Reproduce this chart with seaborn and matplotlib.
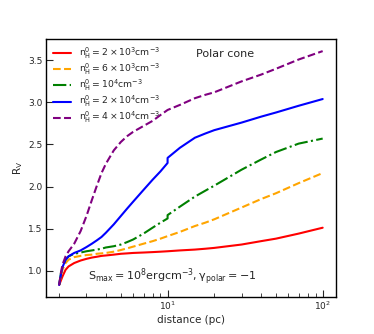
import numpy as np
import pandas as pd
import seaborn as sns
import matplotlib
matplotlib.use('Agg')
import matplotlib.pyplot as plt

# distance grid (pc); 10 appears twice for the small jump at 10 pc
distance = [2.0, 2.05, 2.1, 2.2, 2.3, 2.5, 2.75, 3.0, 3.25, 3.5, 3.75, 4.0, 4.5, 5.0, 5.5,
            6.0, 7.0, 8.0, 9.0, 10.0, 10.0, 12.0, 15.0, 17.5, 20.0, 30.0, 40.0, 50.0, 70.0, 100.0]

rv_2e3 = [0.83, 0.88, 0.93, 1.01, 1.05, 1.09, 1.12, 1.14, 1.155, 1.165, 1.175, 1.18, 1.19, 1.20, 1.205,
          1.21, 1.215, 1.22, 1.225, 1.23, 1.23, 1.24, 1.25, 1.26, 1.27, 1.31, 1.35, 1.38, 1.44, 1.51]
rv_6e3 = [0.83, 0.93, 1.01, 1.09, 1.13, 1.16, 1.175, 1.185, 1.19, 1.20, 1.205, 1.21, 1.225, 1.245, 1.265,
          1.285, 1.32, 1.35, 1.38, 1.41, 1.41, 1.46, 1.53, 1.57, 1.61, 1.75, 1.85, 1.92, 2.04, 2.16]
rv_1e4 = [0.83, 0.96, 1.05, 1.13, 1.17, 1.20, 1.215, 1.23, 1.24, 1.25, 1.26, 1.275, 1.29, 1.31, 1.34,
          1.37, 1.44, 1.51, 1.57, 1.62, 1.66, 1.76, 1.88, 1.95, 2.01, 2.20, 2.32, 2.41, 2.51, 2.57]
rv_2e4 = [0.83, 0.95, 1.04, 1.13, 1.17, 1.21, 1.24, 1.28, 1.32, 1.36, 1.40, 1.45, 1.55, 1.65, 1.74,
          1.82, 1.96, 2.08, 2.18, 2.28, 2.34, 2.46, 2.58, 2.63, 2.67, 2.76, 2.83, 2.88, 2.96, 3.04]
rv_4e4 = [0.83, 0.97, 1.07, 1.17, 1.23, 1.32, 1.47, 1.65, 1.84, 2.01, 2.16, 2.27, 2.43, 2.53, 2.60,
          2.65, 2.72, 2.78, 2.85, 2.91, 2.91, 2.97, 3.05, 3.09, 3.12, 3.25, 3.33, 3.40, 3.51, 3.61]

labels = [r'$\mathrm{n_H^0 = 2\times10^3 cm^{-3}}$',
          r'$\mathrm{n_H^0 = 6\times10^3 cm^{-3}}$',
          r'$\mathrm{n_H^0 = 10^4 cm^{-3}}$',
          r'$\mathrm{n_H^0 = 2\times10^4 cm^{-3}}$',
          r'$\mathrm{n_H^0 = 4\times10^4 cm^{-3}}$']
series = [rv_2e3, rv_6e3, rv_1e4, rv_2e4, rv_4e4]
colors = ['red', 'orange', 'green', 'blue', 'purple']
styles = ['-', '--', '-.', '-', '--']

sns.set_style('ticks')
plt.rcParams['font.family'] = ['DejaVu Sans']

fig = plt.figure(figsize=(3.74, 3.34), dpi=100)
ax = fig.add_axes([0.123, 0.112, 0.775, 0.770])
ax.set_xscale('log')

for vals, lab, col, ls in zip(series, labels, colors, styles):
    df = pd.DataFrame({'distance': distance, 'rv': vals})
    sns.lineplot(data=df, x='distance', y='rv', ax=ax, color=col, linestyle=ls,
                 linewidth=1.5, label=lab, estimator=None, sort=False)

ax.set_xlabel('distance (pc)', fontsize=7.5, labelpad=2)
ax.set_ylabel(r'$\mathrm{R_V}$', fontsize=7.5, labelpad=2)
ax.tick_params(which='both', direction='in', labelsize=6.5, pad=2.5)
ax.tick_params(which='major', length=5)
ax.tick_params(which='minor', length=3)
for sp in ax.spines.values():
    sp.set_linewidth(1.0)
    sp.set_color('black')

ax.legend(loc='upper left', frameon=False, fontsize=6.7, handlelength=2.0,
          labelspacing=0.1, borderaxespad=0.3)
ax.text(0.517, 0.945, 'Polar cone', transform=ax.transAxes, fontsize=8,
        ha='left', va='center')
ax.text(0.146, 0.078, r'$\mathrm{S_{max} = 10^8 erg cm^{-3}, \gamma_{polar} = -1}$',
        transform=ax.transAxes, fontsize=8, ha='left', va='center')

fig.savefig('out.png', dpi=100)
